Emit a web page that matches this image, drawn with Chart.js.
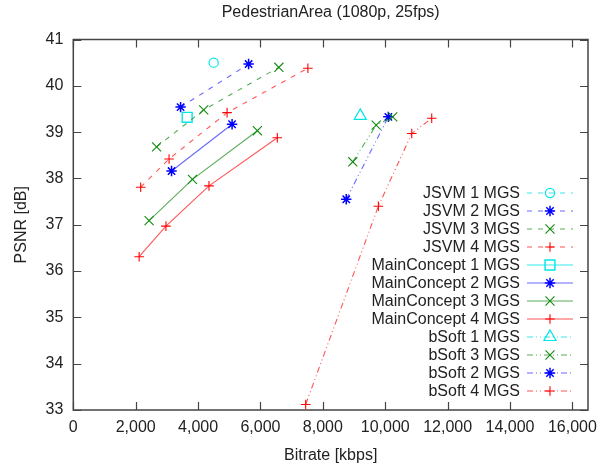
<!DOCTYPE html>
<html>
<head>
<meta charset="utf-8">
<script src="https://cdn.jsdelivr.net/npm/chart.js@4/dist/chart.umd.min.js"></script>
<style>
  html, body { margin: 0; padding: 0; background: #fff; }
  #wrap { width: 610px; height: 465px; position: relative; }
</style>
</head>
<body>
<div id="wrap"><canvas id="c" width="610" height="465"></canvas></div>
<script>
// ---- data ----
const chartTitle = 'PedestrianArea (1080p, 25fps)';
const xTitle = 'Bitrate [kbps]';
const yTitle = 'PSNR [dB]';
const xTickValues = [0, 2000, 4000, 6000, 8000, 10000, 12000, 14000, 16000];
const yTickValues = [33, 34, 35, 36, 37, 38, 39, 40, 41];

const seriesNames = [
  'JSVM 1 MGS', 'JSVM 2 MGS', 'JSVM 3 MGS', 'JSVM 4 MGS',
  'MainConcept 1 MGS', 'MainConcept 2 MGS', 'MainConcept 3 MGS', 'MainConcept 4 MGS',
  'bSoft 1 MGS', 'bSoft 3 MGS', 'bSoft 2 MGS', 'bSoft 4 MGS'
];

const jsvm1Rate = [4500];                     const jsvm1Psnr = [40.50];
const jsvm2Rate = [3440, 5620];               const jsvm2Psnr = [39.54, 40.47];
const jsvm3Rate = [2670, 4180, 6590];         const jsvm3Psnr = [38.68, 39.48, 40.40];
const jsvm4Rate = [2160, 3070, 4930, 7520];   const jsvm4Psnr = [37.81, 38.42, 39.42, 40.38];
const mc1Rate = [3650];                       const mc1Psnr = [39.32];
const mc2Rate = [3150, 5090];                 const mc2Psnr = [38.16, 39.17];
const mc3Rate = [2430, 3820, 5900];           const mc3Psnr = [37.09, 37.98, 39.03];
const mc4Rate = [2110, 2970, 4350, 6540];     const mc4Psnr = [36.31, 36.97, 37.84, 38.88];
const bs1Rate = [9200];                       const bs1Psnr = [39.35];
const bs3Rate = [8960, 9710, 10240];          const bs3Psnr = [38.36, 39.15, 39.33];
const bs2Rate = [8750, 10100];                const bs2Psnr = [37.55, 39.33];
const bs4Rate = [7450, 9780, 10850, 11490];   const bs4Psnr = [33.12, 37.40, 38.97, 39.30];

const seriesRates = [jsvm1Rate, jsvm2Rate, jsvm3Rate, jsvm4Rate, mc1Rate, mc2Rate, mc3Rate, mc4Rate, bs1Rate, bs3Rate, bs2Rate, bs4Rate];
const seriesPsnrs = [jsvm1Psnr, jsvm2Psnr, jsvm3Psnr, jsvm4Psnr, mc1Psnr, mc2Psnr, mc3Psnr, mc4Psnr, bs1Psnr, bs3Psnr, bs2Psnr, bs4Psnr];

// ---- styles ----
const CYAN = '#00e6e6', BLUE = '#0000ff', GREEN = '#118a11', RED = '#ff0000';
const LCYAN = 'rgba(0,230,230,0.8)', LBLUE = 'rgba(40,40,255,0.7)', LGREEN = 'rgba(17,138,17,0.7)', LRED = 'rgba(255,30,30,0.75)';
const DASH_JSVM = [5, 6];
const DASH_MC = [];
const DASH_BS = [6, 3, 1, 3, 1, 3];
const styles = [
  {c: CYAN,  l: LCYAN,  d: DASH_JSVM, p: 'circle',   r: 4.6, w: 1.2},
  {c: BLUE,  l: LBLUE,  d: DASH_JSVM, p: 'star',     r: 5.2, w: 1.5},
  {c: GREEN, l: LGREEN, d: DASH_JSVM, p: 'crossRot', r: 6.4, w: 1.1},
  {c: RED,   l: LRED,   d: DASH_JSVM, p: 'cross',    r: 4.8, w: 1.1},
  {c: CYAN,  l: LCYAN,  d: DASH_MC,   p: 'rect',     r: 7,   w: 1.4},
  {c: BLUE,  l: LBLUE,  d: DASH_MC,   p: 'star',     r: 5.2, w: 1.5},
  {c: GREEN, l: LGREEN, d: DASH_MC,   p: 'crossRot', r: 6.4, w: 1.1},
  {c: RED,   l: LRED,   d: DASH_MC,   p: 'cross',    r: 4.8, w: 1.1},
  {c: CYAN,  l: LCYAN,  d: DASH_BS,   p: 'triangle', r: 7,   w: 1.2},
  {c: GREEN, l: LGREEN, d: DASH_BS,   p: 'crossRot', r: 6.4, w: 1.1},
  {c: BLUE,  l: LBLUE,  d: DASH_BS,   p: 'star',     r: 5.2, w: 1.5},
  {c: RED,   l: LRED,   d: DASH_BS,   p: 'cross',    r: 4.8, w: 1.1}
];

const FONT = "'Liberation Sans', Arial, sans-serif";
const TEXT = '#222';
const FRAME = '#444';

const datasets = seriesNames.map((name, i) => ({
  label: name,
  data: seriesRates[i].map((x, k) => ({x: x, y: seriesPsnrs[i][k]})),
  showLine: seriesRates[i].length > 1,
  borderColor: styles[i].l,
  backgroundColor: 'rgba(0,0,0,0)',
  borderWidth: 1.1,
  borderDash: styles[i].d,
  pointStyle: styles[i].p,
  pointRadius: styles[i].r,
  pointBorderWidth: styles[i].w,
  pointBorderColor: styles[i].c,
  pointBackgroundColor: 'rgba(0,0,0,0)',
  pointHoverRadius: styles[i].r,
  tension: 0
}));

// frame with inward ticks on all four sides
const framePlugin = {
  id: 'frame',
  beforeDatasetsDraw(chart) {
    const {ctx, chartArea: a, scales} = chart;
    ctx.save();
    ctx.strokeStyle = FRAME;
    ctx.lineWidth = 1.2;
    const L = 8;
    ctx.beginPath();
    xTickValues.forEach(v => {
      const px = Math.round(scales.x.getPixelForValue(v)) + 0.5;
      ctx.moveTo(px, a.bottom); ctx.lineTo(px, a.bottom - L);
      ctx.moveTo(px, a.top); ctx.lineTo(px, a.top + L);
    });
    yTickValues.forEach(v => {
      const py = Math.round(scales.y.getPixelForValue(v)) + 0.5;
      ctx.moveTo(a.left, py); ctx.lineTo(a.left + L, py);
      ctx.moveTo(a.right, py); ctx.lineTo(a.right - L, py);
    });
    ctx.stroke();
    ctx.lineWidth = 1.5;
    ctx.strokeRect(a.left, a.top, a.right - a.left, a.bottom - a.top);
    ctx.restore();
  }
};

// title centered over the plot area
const titlePlugin = {
  id: 'ctitle',
  afterDraw(chart) {
    const {ctx, chartArea: a} = chart;
    ctx.save();
    ctx.font = '16px ' + FONT;
    ctx.fillStyle = TEXT;
    ctx.textAlign = 'center';
    ctx.textBaseline = 'middle';
    ctx.fillText(chartTitle, (a.left + a.right) / 2, 13);
    ctx.restore();
  }
};

// gnuplot-like legend: right aligned text, sample on the right
const legendPlugin = {
  id: 'glegend',
  afterDatasetsDraw(chart) {
    const {ctx, chartArea: a} = chart;
    const textRight = a.right - 68;
    const x0 = a.right - 61, x1 = a.right - 15, xm = (x0 + x1) / 2;
    const top = 193, step = 18;
    ctx.save();
    chart.data.datasets.forEach((ds, i) => {
      const y = top + i * step;
      ctx.font = '16px ' + FONT;
      ctx.fillStyle = TEXT;
      ctx.textAlign = 'right';
      ctx.textBaseline = 'middle';
      ctx.fillText(ds.label, textRight, y + 1);
      ctx.strokeStyle = ds.borderColor;
      ctx.lineWidth = 1.2;
      ctx.setLineDash(ds.borderDash);
      ctx.beginPath();
      ctx.moveTo(x0, y); ctx.lineTo(x1, y);
      ctx.stroke();
      ctx.setLineDash([]);
      ctx.strokeStyle = ds.pointBorderColor;
      ctx.fillStyle = 'rgba(0,0,0,0)';
      ctx.lineWidth = ds.pointBorderWidth;
      Chart.helpers.drawPoint(ctx, {pointStyle: ds.pointStyle, rotation: 0, radius: ds.pointRadius, borderWidth: ds.pointBorderWidth}, xm, y);
    });
    ctx.restore();
  }
};

new Chart(document.getElementById('c'), {
  type: 'scatter',
  data: {datasets},
  plugins: [framePlugin, legendPlugin, titlePlugin],
  options: {
    responsive: false,
    animation: false,
    events: [],
    layout: {padding: {top: 39.5, right: 22, bottom: 0, left: 0}},
    plugins: {legend: {display: false}, tooltip: {enabled: false}, title: {display: false}},
    scales: {
      x: {
        type: 'linear', min: 0, max: 16500,
        afterBuildTicks: s => { s.ticks = xTickValues.map(v => ({value: v})); },
        afterFit: s => { s.height = 55; },
        grid: {display: false, drawTicks: false},
        border: {display: false},
        ticks: {
          padding: 8, color: TEXT, font: {family: FONT, size: 16},
          maxRotation: 0, autoSkip: false,
          callback: v => Number(v).toLocaleString('en-US')
        },
        title: {display: true, text: xTitle, color: TEXT, font: {family: FONT, size: 16}, padding: {top: 0, bottom: 0}}
      },
      y: {
        type: 'linear', min: 33, max: 41,
        afterBuildTicks: s => { s.ticks = yTickValues.map(v => ({value: v})); },
        afterFit: s => { s.width = 73.3; },
        grid: {display: false, drawTicks: false},
        border: {display: false},
        ticks: {padding: 10, color: TEXT, font: {family: FONT, size: 16}, autoSkip: false,
          callback: v => String(v)},
        title: {display: true, text: yTitle, color: TEXT, font: {family: FONT, size: 16}, padding: {top: 12, bottom: 0}}
      }
    }
  }
});
</script>
</body>
</html>
